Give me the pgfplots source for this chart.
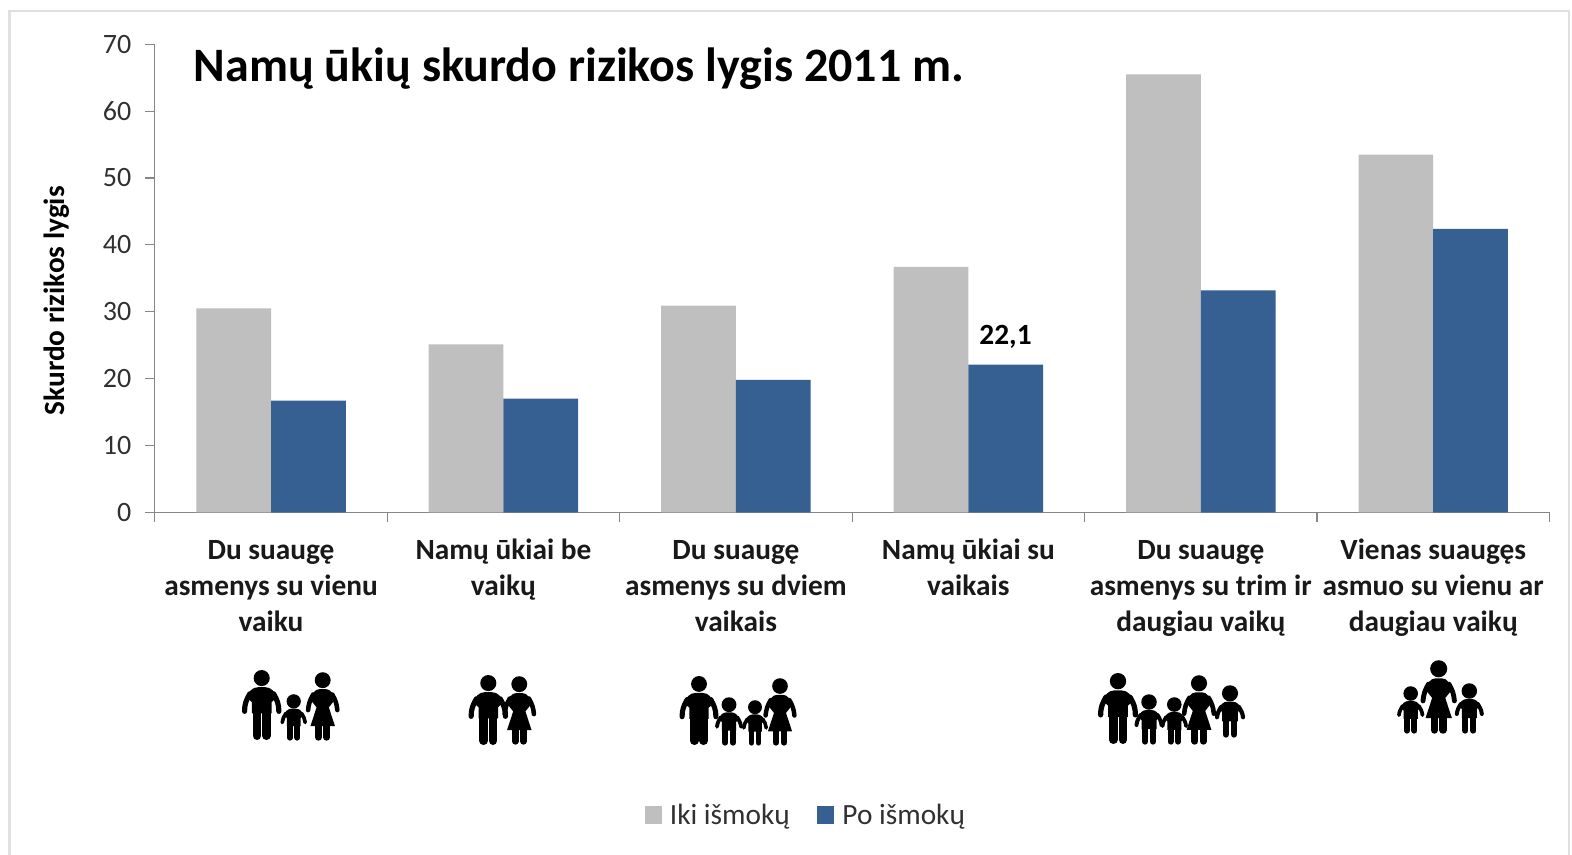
\documentclass[border=0pt]{standalone}
\usepackage{fontspec}
\setmainfont{Carlito}
\usepackage{pgfplots}
\pgfplotsset{compat=1.18}
\definecolor{barblue}{HTML}{376092}
\definecolor{bargrey}{HTML}{BFBFBF}
\definecolor{axisgrey}{HTML}{868686}
\definecolor{txtgrey}{HTML}{303030}
\newcommand{\st}{\rule{0pt}{16pt}}

% little people, origin at the feet, #3 = height in px
\newcommand{\man}[3]{\begin{scope}[shift={(#1,#2)},x=#3*0.75pt,y=#3*0.75pt]
\fill (0,.885) circle (.115);
\fill (-.14,.38) -- (-.14,.54) -- (-.205,.60) to[out=85,in=180] (-.05,.755) -- (.05,.755) to[out=0,in=95] (.205,.60) -- (.14,.54) -- (.14,.38) -- cycle;
\draw[line width=#3*.0555pt,line cap=round] (-.17,.66) to[out=240,in=90] (-.245,.41);
\draw[line width=#3*.0555pt,line cap=round] (.17,.66) to[out=-60,in=90] (.245,.41);
\draw[line width=#3*.09pt,line cap=round] (-.067,.40) -- (-.067,.06);
\draw[line width=#3*.09pt,line cap=round] (.067,.40) -- (.067,.06);
\end{scope}}
\newcommand{\woman}[3]{\begin{scope}[shift={(#1,#2)},x=#3*0.75pt,y=#3*0.75pt]
\fill (0,.88) circle (.117);
\fill (-.09,.48) -- (-.17,.58) to[out=90,in=180] (-.04,.75) -- (.04,.75) to[out=0,in=90] (.17,.58) -- (.09,.48) -- (.18,.205) -- (-.18,.205) -- cycle;
\draw[line width=#3*.05pt,line cap=round] (-.14,.67) to[out=240,in=85] (-.215,.44);
\draw[line width=#3*.05pt,line cap=round] (.14,.67) to[out=-60,in=95] (.215,.44);
\draw[line width=#3*.075pt,line cap=round] (-.06,.22) -- (-.06,.04);
\draw[line width=#3*.075pt,line cap=round] (.06,.22) -- (.06,.04);
\end{scope}}
\newcommand{\kid}[3]{\begin{scope}[shift={(#1,#2)},x=#3*0.75pt,y=#3*0.75pt]
\fill (0,.84) circle (.155);
\fill (-.15,.30) -- (-.15,.48) -- (-.2,.53) to[out=90,in=180] (-.05,.68) -- (.05,.68) to[out=0,in=90] (.2,.53) -- (.15,.48) -- (.15,.30) -- cycle;
\draw[line width=#3*.06pt,line cap=round] (-.17,.58) to[out=240,in=85] (-.25,.38);
\draw[line width=#3*.06pt,line cap=round] (.17,.58) to[out=-60,in=95] (.25,.38);
\draw[line width=#3*.095pt,line cap=round] (-.08,.32) -- (-.08,.05);
\draw[line width=#3*.095pt,line cap=round] (.08,.32) -- (.08,.05);
\end{scope}}

\begin{document}
\begin{tikzpicture}
\begin{scope}[x=0.75pt,y=-0.75pt]
\path[use as bounding box] (0,0) rectangle (1572,854);
\draw[color=black!12,line width=2.2pt] (9.5,856) -- (9.5,11) -- (1569,11) -- (1569,856);
\node[anchor=base west,font=\fontsize{36}{40}\selectfont\bfseries,inner sep=0pt] at (193.5,81) {Namų ūkių skurdo rizikos lygis 2011 m.};
\man{261.7}{740}{70}\kid{293.7}{740}{46}\woman{322.7}{740}{68}
\man{488.3}{745}{70}\woman{519.3}{744}{68}
\man{699}{745}{69}\kid{729}{745}{48}\kid{755}{745}{45}\woman{780}{745}{67}
\man{1118}{744}{71}\kid{1149}{744}{50}\kid{1174.3}{744}{47}\woman{1199}{744}{69}\kid{1230}{737}{52}
\kid{1410.7}{733}{47}\woman{1438.7}{733}{73}\kid{1469.3}{733}{50}
\end{scope}
\begin{axis}[
  at={(116.1pt,-384.2pt)}, anchor=south west,
  scale only axis, width=1046pt, height=351pt,
  xmin=-0.5, xmax=5.5, ymin=0, ymax=70,
  axis lines=left, axis line style={-,draw=axisgrey,line width=0.9pt},
  ytick={0,10,20,30,40,50,60,70},
  xtick={0,1,2,3,4,5},
  minor xtick={-0.5,0.5,1.5,2.5,3.5,4.5,5.5},
  xticklabels={{\st Du suaugę\\asmenys su vienu\\vaiku},{\st Namų ūkiai be\\vaikų},{\st Du suaugę\\asmenys su dviem\\vaikais},{\st Namų ūkiai su\\vaikais},{\st Du suaugę\\asmenys su trim ir\\daugiau vaikų},{\st Vienas suaugęs\\asmuo su vienu ar\\daugiau vaikų}},
  tick align=outside,
  major tick length=7.5pt, minor tick length=7.5pt,
  y tick style={draw=axisgrey,line width=0.9pt},
  x tick style={draw=none},
  minor x tick style={draw=axisgrey,line width=0.9pt},
  /pgf/number format/assume math mode=true,
  yticklabel style={font=\fontsize{21}{24}\selectfont,text=txtgrey,inner sep=0pt,xshift=-10pt},
  xticklabel style={font=\fontsize{22}{27}\selectfont\bfseries,text=black!90,align=center,anchor=north,inner sep=0pt,yshift=-12pt},
  ylabel={Skurdo rizikos lygis},
  every axis y label/.style={at={(axis description cs:-0.070,0.452)},rotate=90,anchor=center,font=\fontsize{22}{24}\selectfont\bfseries},
  ybar, bar width=0.3215,
  legend columns=2,
  legend style={at={(axis description cs:0.4670,-0.647)},anchor=center,draw=none,fill=none,font=\fontsize{22}{24}\selectfont,text=txtgrey,/tikz/every even column/.append style={column sep=18.5pt},/tikz/every odd column/.append style={column sep=4pt}},
  legend image code/.code={\fill[#1] (0pt,-6.5pt) rectangle (13pt,6.5pt);},
  clip=false
]
\addplot[ybar,bar shift=-0.16075,fill=bargrey,draw=none] coordinates {(0,30.5) (1,25.1) (2,30.9) (3,36.7) (4,65.5) (5,53.5)};
\addlegendentry{Iki išmokų}
\addplot[ybar,bar shift=0.16075,fill=barblue,draw=none] coordinates {(0,16.7) (1,17.0) (2,19.8) (3,22.1) (4,33.2) (5,42.4)};
\addlegendentry{Po išmokų}
\node[anchor=south,font=\fontsize{22}{24}\selectfont\bfseries,inner sep=0pt,yshift=11.5pt] at (axis cs:3.16,22.1) {22,1};
\end{axis}
\end{tikzpicture}
\end{document}
